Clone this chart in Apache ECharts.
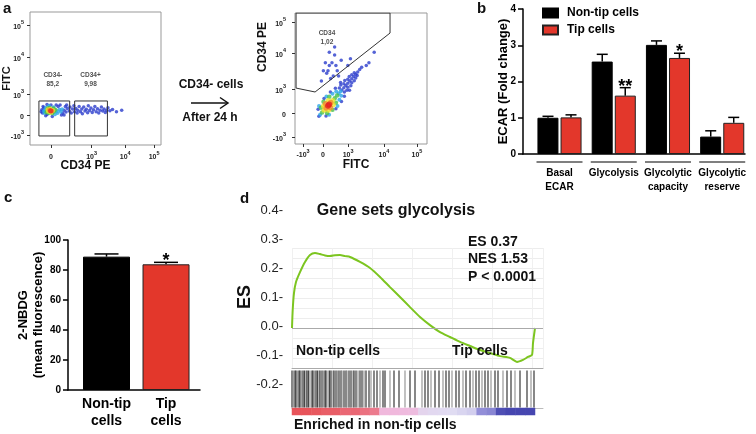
<!DOCTYPE html>
<html><head><meta charset="utf-8">
<script src="https://cdn.jsdelivr.net/npm/echarts@6/dist/echarts.min.js"></script>
<style>html,body{margin:0;padding:0;background:#fff}#c{width:756px;height:434px}</style>
</head><body><div id="c"></div>
<script>
// ================= DATA =================
// Panel a: flow cytometry (display channel units 0-1000)
const aLeftXTickPos = [159, 470, 727, 947];
const aLeftXTickLabels = ['0', '10^3', '10^4', '10^5'];
const aLeftYTickPos = [75, 226, 383, 662, 902];
const aLeftYTickLabels = ['-10^3', '0', '10^3', '10^4', '10^5'];
const aRightXTickPos = [61, 212, 402, 674, 924];
const aRightXTickLabels = ['-10^3', '0', '10^3', '10^4', '10^5'];
const aRightYTickPos = [53, 237, 420, 695, 931];
const aRightYTickLabels = ['-10^3', '0', '10^3', '10^4', '10^5'];
const gateNeg = [[68,331],[303,331],[303,68],[68,68],[68,331]];
const gatePos = [[341,331],[591,331],[591,68],[341,68],[341,331]];
const gateTip = [[8,1000],[720,1000],[720,847],[152,397],[8,427],[8,1000]];
const gateLabelsLeft = [['CD34-\n85,2', 174, 492], ['CD34+\n9,98', 462, 492]];
const gateLabelsRight = [['CD34\n1,02', 242, 810]];
// events: [x, y, density level 0-5]
const eventsLeft = [
 [158,257,5],
 [148,262,4],[168,255,4],
 [140,252,3],[175,262,3],[155,270,3],[160,245,3],[135,266,3],
 [130,258,2],[185,252,2],[150,280,2],[170,238,2],[195,265,2],[125,245,2],[135,275,2],[180,275,2],[145,240,2],
 [115,262,1],[205,255,1],[120,280,1],[180,285,1],[210,240,1],[110,240,1],[145,295,1],[190,230,1],[225,265,1],[235,250,1],[245,270,1],[105,255,1],
 [100,255,0],[250,240,0],[105,280,0],[130,230,0],[160,300,0],[215,290,0],[260,262,0],[275,248,0],[285,275,0],[95,240,0],
 [300,255,0],[305,285,0],[315,240,0],[325,270,0],[335,295,0],[340,250,0],[350,275,0],[360,240,0],[365,262,0],[375,290,0],[385,250,0],[395,270,0],
 [400,235,0],[410,285,0],[420,255,0],[430,268,0],[440,242,0],[445,295,0],[455,260,0],[465,278,0],[475,245,0],[485,265,0],[495,290,0],[505,250,0],
 [515,272,0],[525,240,0],[535,262,0],[545,285,0],[555,255,0],[565,270,0],[575,245,0],[585,262,0],[595,280,0],[610,258,0],[630,266,0],[660,250,0],
 [700,262,0],[90,265,0],[100,290,0],[120,220,0],[170,215,0],[230,300,0],[260,225,0],[280,300,0],[240,225,0],[200,300,0],[85,250,0],[130,305,0],
 [270,290,0]
];
const eventsRight = [
 [250,292,5],[259,302,5],
 [235,274,4],[271,316,4],[231,308,4],[269,276,4],
 [220,257,3],[286,333,3],[216,290,3],[254,258,3],[252,332,3],[290,300,3],
 [301,350,2],[205,240,2],[197,277,2],[243,237,2],[260,361,2],[310,314,2],[216,322,2],[284,262,2],[319,371,2],
 [331,385,1],[346,402,1],[284,384,1],[336,338,1],[182,290,1],[258,224,1],[238,362,1],[322,290,1],[312,401,1],[350,369,1],[190,223,1],
 [355,412,0],[336,428,0],[374,396,0],[370,430,0],[347,450,0],[393,410,0],[385,447,0],[370,460,0],[400,434,0],[400,464,0],[377,484,0],[423,444,0],
 [415,481,0],[400,494,0],[430,468,0],[430,499,0],[411,515,0],[449,483,0],[445,516,0],[430,529,0],[460,503,0],[460,533,0],[449,543,0],[471,523,0],
 [475,550,0],[490,568,0],[505,585,0],[306,425,0],[374,365,0],[268,397,0],[352,325,0],[220,348,0],[310,270,0],[175,266,0],[235,214,0],[181,212,0],
 [345,469,0],[413,411,0],
 [250,560,0],[280,620,0],[300,680,0],[270,500,0],[230,620,0],[320,560,0],[260,700,0],[350,640,0],[290,520,0],[310,600,0],[240,540,0],[200,480,0],
 [400,600,0],[420,650,0],[330,520,0],[260,600,0],[215,560,0],[300,740,0],[560,620,0],[540,600,0],[600,700,0]
];
// Panel b: ECAR
const bCategories = ['Basal\nECAR', 'Glycolysis', 'Glycolytic\ncapacity', 'Glycolytic\nreserve'];
const bNonTip = [1.00, 2.55, 3.01, 0.48];
const bNonTipErr = [0.04, 0.20, 0.11, 0.16];
const bTip = [1.01, 1.61, 2.65, 0.86];
const bTipErr = [0.07, 0.22, 0.13, 0.15];
const bTipSig = ['', '**', '*', ''];
// Panel c: 2-NBDG
const cCategories = ['Non-tip\ncells', 'Tip\ncells'];
const cValues = [88.9, 83.8];
const cErr = [1.8, 1.3];
const cSig = ['', '*'];
// Panel d: GSEA (x = gene rank position, y = running ES)
const esCurve = [[0,0],[0.7,0.062],[2,0.121],[4,0.159],[8,0.193],[13,0.228],[18,0.252],[23,0.259],[28,0.255],[33,0.250],[38,0.248],[43,0.251],
 [48,0.252],[53,0.248],[58,0.245],[68,0.228],[78,0.207],[88,0.176],[98,0.141],[108,0.107],[118,0.072],[128,0.038],[138,0.010],[148,-0.014],
 [158,-0.031],[168,-0.048],[178,-0.062],[188,-0.076],[198,-0.086],[208,-0.097],[218,-0.103],[225,-0.117],[231,-0.110],[236,-0.100],[240,-0.093],
 [241,-0.052],[243,0]];
const hits = [0,1.5,3,4,5.5,7,8,9.5,11,12.5,14,15,16.5,18,20,21,22.5,24,25.5,27,28,30,31.5,33,34,36,37.5,39,41,42,44,45.5,47,49,50,52,54,55,57,
 59,61,62,64,66,68,70,72,74,77,79,82,85,88,91,93,98,102,107,113,118,123,130,133,136,139,143,147,151,154,157,160,164,167,171,174,178,181,184,
 187,190,193,196,199,203,206,211,215,219,223,228,235,239,242];
const rankMetric = [1,1,0.98,0.95,0.95,0.9,0.9,0.85,0.8,0.45,0.45,0.42,0.4,0.1,0.05,0.02,0,-0.05,-0.1,-0.55,-0.6,-0.95,-1,-1,-1];
const esStats = ['ES 0.37', 'NES 1.53', 'P < 0.0001'];

// ================= CHART =================
const FF = '"Liberation Sans", Arial, sans-serif';
const RED = '#e3372b';
const chart = echarts.init(document.getElementById('c'), null, {renderer: 'canvas'});

function supFmt(lbl) {
  const m = lbl.match(/^(-?10)\^(\d)$/);
  return m ? '{b|' + m[1] + '}{s|' + m[2] + '}' : '{b|' + lbl + '}';
}
const supRich = {
  b: {fontSize: 7, fontWeight: 'bold', fontFamily: FF, color: '#222', verticalAlign: 'bottom', lineHeight: 11},
  s: {fontSize: 5.5, fontWeight: 'bold', fontFamily: FF, color: '#222', verticalAlign: 'top', lineHeight: 7}
};
function flowAxis(grid, pos, labels, margin, name, extra) {
  return Object.assign({
    gridIndex: grid, type: 'value', min: 0, max: 1000,
    axisLine: {show: false, onZero: false}, splitLine: {show: false},
    axisTick: {show: true, customValues: pos, length: 3, lineStyle: {color: '#333'}},
    axisLabel: {show: true, customValues: pos, margin: margin, rich: supRich,
      formatter: function (v) { const i = pos.indexOf(v); return i >= 0 ? supFmt(labels[i]) : ''; }},
    name: name, nameLocation: 'middle', nameMoveOverlap: false,
    nameTextStyle: {fontSize: 12, fontWeight: 'bold', fontFamily: FF, color: '#111'}
  }, extra || {});
}
// error bar renderer: reads value and error from the named arrays by data index
function errRender(vals, errs, offset, capW, sigArr) {
  return function (params, api) {
    const k = params.dataIndex;
    const base = api.coord([k, vals[k]]);
    const top = api.coord([k, vals[k] + errs[k]]);
    const x = base[0] + offset;
    const ch = [
      {type: 'line', shape: {x1: x, y1: base[1], x2: x, y2: top[1]}, style: {stroke: '#000', lineWidth: 1.5}},
      {type: 'line', shape: {x1: x - capW / 2, y1: top[1], x2: x + capW / 2, y2: top[1]}, style: {stroke: '#000', lineWidth: 1.5}}
    ];
    const s = sigArr && sigArr[k];
    if (s) ch.push({type: 'text', style: {text: s, x: x, y: top[1] - 1, align: 'center', verticalAlign: 'middle',
      font: 'bold 18px ' + FF, fill: '#000'}});
    return {type: 'group', children: ch};
  };
}
const byDensity = (a) => a.slice().sort((p, q) => p[2] - q[2]);
const txt = (x, y, t, size, opt) => Object.assign({type: 'text', x: x, y: y, z: 100, silent: true,
  style: Object.assign({text: t, font: 'bold ' + size + 'px ' + FF, fill: '#111', align: 'left', verticalAlign: 'middle'}, opt || {})});

const option = {
  animation: false,
  textStyle: {fontFamily: FF},
  grid: [
    {left: 29, top: 12, width: 132, height: 133, show: true, borderColor: '#999', borderWidth: 1},
    {left: 295, top: 13, width: 132, height: 131, show: true, borderColor: '#999', borderWidth: 1},
    {left: 523, top: 9, width: 222, height: 145},
    {left: 68, top: 240, width: 132, height: 150},
    {left: 292, top: 210, width: 251, height: 174},
    {left: 292, top: 248, width: 251, height: 120},
    {left: 292, top: 370, width: 251, height: 38},
    {left: 292, top: 408, width: 243, height: 7}
  ],
  xAxis: [
    flowAxis(0, aLeftXTickPos, aLeftXTickLabels, 5, 'CD34 PE', {nameGap: 15,
      nameTextStyle: {fontSize: 12, fontWeight: 'bold', fontFamily: FF, color: '#111', padding: [0, 20, 0, 0]}}),
    flowAxis(1, aRightXTickPos, aRightXTickLabels, 4, 'FITC', {nameGap: 15,
      nameTextStyle: {fontSize: 12, fontWeight: 'bold', fontFamily: FF, color: '#111', padding: [0, 10, 0, 0]}}),
    {gridIndex: 2, type: 'value', min: -0.673, max: 3.42,
      axisLine: {show: true, onZero: false, lineStyle: {color: '#000', width: 1.5}}, axisTick: {show: false}, splitLine: {show: false},
      axisLabel: {customValues: [0, 1, 2, 3], formatter: (v) => bCategories[Math.round(v)] || '', fontSize: 10, fontWeight: 'bold',
        color: '#000', lineHeight: 14, margin: 12}},
    {gridIndex: 3, type: 'value', min: -0.647, max: 1.571,
      axisLine: {show: true, onZero: false, lineStyle: {color: '#000', width: 1.5}}, axisTick: {show: false}, splitLine: {show: false},
      axisLabel: {customValues: [0, 1], formatter: (v) => cCategories[Math.round(v)] || '', fontSize: 14, fontWeight: 'bold',
        color: '#000', lineHeight: 17, margin: 6}},
    {gridIndex: 4, type: 'value', min: 0, max: 251, show: false},
    {gridIndex: 5, type: 'value', min: 0, max: 251, interval: 40,
      axisLine: {show: true, onZero: false, lineStyle: {color: '#aaa'}}, axisTick: {show: false}, axisLabel: {show: false},
      splitLine: {show: true, lineStyle: {color: '#f0f0f0'}}},
    {gridIndex: 6, type: 'value', min: 0, max: 251,
      axisLine: {show: true, onZero: false, lineStyle: {color: '#bbb'}}, axisTick: {show: false}, axisLabel: {show: false}, splitLine: {show: false}},
    {gridIndex: 7, type: 'category', data: rankMetric.map((v, i) => i), show: false}
  ],
  yAxis: [
    flowAxis(0, aLeftYTickPos, aLeftYTickLabels, 6, 'FITC', {nameGap: 18,
      nameTextStyle: {fontSize: 11, fontWeight: 'bold', fontFamily: FF, color: '#111'}}),
    flowAxis(1, aRightYTickPos, aRightYTickLabels, 9, '', {}),
    {gridIndex: 2, type: 'value', min: 0, max: 4, interval: 1,
      axisLine: {show: true, onZero: false, lineStyle: {color: '#000', width: 1.5}},
      axisTick: {show: true, length: 5, lineStyle: {color: '#000', width: 1.5}},
      axisLabel: {fontSize: 10, fontWeight: 'bold', color: '#000', margin: 7}, splitLine: {show: false},
      name: 'ECAR (Fold change)', nameLocation: 'middle', nameGap: 13, nameMoveOverlap: false,
      nameTextStyle: {fontSize: 13, fontWeight: 'bold', color: '#000'}},
    {gridIndex: 3, type: 'value', min: 0, max: 100, interval: 20,
      axisLine: {show: true, onZero: false, lineStyle: {color: '#000', width: 1.5}},
      axisTick: {show: true, length: 5, lineStyle: {color: '#000', width: 1.5}},
      axisLabel: {fontSize: 10, fontWeight: 'bold', color: '#000', margin: 7}, splitLine: {show: false},
      name: '2-NBDG\n(mean fluorescence)', nameLocation: 'middle', nameGap: 22, nameMoveOverlap: false,
      nameTextStyle: {fontSize: 13, fontWeight: 'bold', color: '#000', lineHeight: 15}},
    {gridIndex: 4, type: 'value', min: -0.2, max: 0.4, interval: 0.1,
      axisLine: {show: false, onZero: false}, axisTick: {show: false}, splitLine: {show: false},
      axisLabel: {fontSize: 13, color: '#222', margin: 9, formatter: (v) => (Math.abs(v) < 1e-9 ? 0 : v).toFixed(1) + '-'},
      name: 'ES', nameLocation: 'middle', nameGap: 38, nameMoveOverlap: false,
      nameTextStyle: {fontSize: 18, fontWeight: 'bold', color: '#111'}},
    {gridIndex: 5, type: 'value', min: -0.138, max: 0.276, interval: 0.0345,
      axisLine: {show: false, onZero: false}, axisTick: {show: false}, axisLabel: {show: false},
      splitLine: {show: true, lineStyle: {color: '#ededed'}}},
    {gridIndex: 6, type: 'value', min: 0, max: 1, show: false},
    {gridIndex: 7, type: 'category', data: ['m'], show: false}
  ],
  visualMap: [
    {type: 'continuous', show: false, seriesIndex: [0, 1], dimension: 2, min: 0, max: 5,
      inRange: {color: ['#2a3ccc', '#2aa6e6', '#48c04a', '#eee42a', '#f58e2a', '#e42020']}},
    {type: 'continuous', show: false, seriesIndex: 16, dimension: 2, min: -1, max: 1,
      inRange: {color: ['#4646b0', '#9a96dc', '#e0dcf2', '#f2b4da', '#e8545a']}}
  ],
  legend: {data: ['Non-tip cells', 'Tip cells'], orient: 'vertical', left: 537, top: 2, itemWidth: 15, itemHeight: 9, itemGap: 5,
    icon: 'rect', textStyle: {fontSize: 12, fontWeight: 'bold', color: '#000', padding: [0, 0, 0, 4]}, selectedMode: false},
  series: [
    {type: 'scatter', xAxisIndex: 0, yAxisIndex: 0, data: byDensity(eventsLeft), symbolSize: (v) => 3.5 + v[2] * 0.35, silent: true},
    {type: 'scatter', xAxisIndex: 1, yAxisIndex: 1, data: byDensity(eventsRight), symbolSize: (v) => 3.5 + v[2] * 0.5, silent: true},
    {type: 'line', xAxisIndex: 0, yAxisIndex: 0, data: gateNeg, symbol: 'none', lineStyle: {color: '#333', width: 1}, silent: true},
    {type: 'line', xAxisIndex: 0, yAxisIndex: 0, data: gatePos, symbol: 'none', lineStyle: {color: '#333', width: 1}, silent: true},
    {type: 'line', xAxisIndex: 1, yAxisIndex: 1, data: gateTip, symbol: 'none', lineStyle: {color: '#333', width: 1}, silent: true},
    {type: 'scatter', xAxisIndex: 0, yAxisIndex: 0, symbolSize: 0, silent: true,
      data: gateLabelsLeft.map((g) => ({name: g[0], value: [g[1], g[2]]})),
      label: {show: true, position: 'inside', formatter: (p) => p.name, fontSize: 6.5, fontWeight: 'bold', color: '#222', lineHeight: 9}},
    {type: 'scatter', xAxisIndex: 1, yAxisIndex: 1, symbolSize: 0, silent: true,
      data: gateLabelsRight.map((g) => ({name: g[0], value: [g[1], g[2]]})),
      label: {show: true, position: 'inside', formatter: (p) => p.name, fontSize: 6.5, fontWeight: 'bold', color: '#222', lineHeight: 9}},
    {name: 'Non-tip cells', type: 'bar', xAxisIndex: 2, yAxisIndex: 2, barWidth: 21, barGap: '10%',
      data: bNonTip.map((v, i) => [i, v]), itemStyle: {color: '#000', borderColor: '#000', borderWidth: 1}, silent: true},
    {name: 'Tip cells', type: 'bar', xAxisIndex: 2, yAxisIndex: 2, barWidth: 21, barGap: '10%',
      data: bTip.map((v, i) => [i, v]), itemStyle: {color: RED, borderColor: '#222', borderWidth: 1}, silent: true},
    {type: 'custom', xAxisIndex: 2, yAxisIndex: 2, clip: false, silent: true, renderItem: errRender(bNonTip, bNonTipErr, -11.5, 11, null),
      data: bNonTip.map((v, i) => [i, v + bNonTipErr[i]])},
    {type: 'custom', xAxisIndex: 2, yAxisIndex: 2, clip: false, silent: true, renderItem: errRender(bTip, bTipErr, 11.5, 11, bTipSig),
      data: bTip.map((v, i) => [i, v + bTipErr[i]])},
    {type: 'custom', xAxisIndex: 2, yAxisIndex: 2, clip: false, silent: true,
      data: bCategories.map((c, i) => [i, 0]),
      renderItem: function (params, api) {
        const p = api.coord([params.dataIndex, 0]);
        return {type: 'line', shape: {x1: p[0] - 23, y1: p[1] + 8, x2: p[0] + 23, y2: p[1] + 8}, style: {stroke: '#000', lineWidth: 1.2}};
      }},
    {name: 'c', type: 'bar', xAxisIndex: 3, yAxisIndex: 3, barWidth: 47, silent: true,
      data: cValues.map((v, i) => ({value: [i, v], itemStyle: i === 0 ? {color: '#000', borderColor: '#000', borderWidth: 1} : {color: RED, borderColor: '#222', borderWidth: 1}}))},
    {type: 'custom', xAxisIndex: 3, yAxisIndex: 3, clip: false, silent: true, renderItem: errRender(cValues, cErr, 0, 24, cSig),
      data: cValues.map((v, i) => [i, v + cErr[i]])},
    {type: 'line', xAxisIndex: 5, yAxisIndex: 5, data: esCurve, symbol: 'none', smooth: 0.2, silent: true,
      lineStyle: {color: '#7cc520', width: 2},
      markLine: {silent: true, symbol: 'none', label: {show: false}, data: [{yAxis: 0}], lineStyle: {color: '#aaa', type: 'solid', width: 1}}},
    {type: 'scatter', xAxisIndex: 6, yAxisIndex: 6, silent: true, symbol: 'rect', symbolSize: [1.3, 37],
      data: hits.map((h) => [h, 0.5]),
      itemStyle: {color: (p) => (p.dataIndex % 3 === 1 ? '#8a8a8a' : '#1a1a1a')}},
    {type: 'heatmap', xAxisIndex: 7, yAxisIndex: 7, silent: true, data: rankMetric.map((v, i) => [i, 0, v])}
  ],
  graphic: [
    txt(3, 9, 'a', 15),
    txt(477, 9, 'b', 15),
    txt(4, 198, 'c', 15),
    txt(240, 199, 'd', 15),
    txt(211, 85, 'CD34- cells', 12, {align: 'center'}),
    txt(210, 118, 'After 24 h', 12, {align: 'center'}),
    {type: 'line', silent: true, shape: {x1: 191, y1: 103, x2: 228, y2: 103}, style: {stroke: '#111', lineWidth: 1.5}},
    {type: 'polyline', silent: true, shape: {points: [[220, 97.5], [228, 103], [220, 108.5]]}, style: {stroke: '#111', lineWidth: 1.5, fill: null}},
    {type: 'text', x: 263, y: 47, rotation: Math.PI / 2, silent: true,
      style: {text: 'CD34 PE', font: 'bold 12px ' + FF, fill: '#111', align: 'center', verticalAlign: 'middle'}},
    txt(396, 211, 'Gene sets glycolysis', 16, {align: 'center'}),
    {type: 'text', x: 468, y: 233, z: 100, silent: true,
      style: {text: esStats.join('\n'), font: 'bold 14px ' + FF, fill: '#111', align: 'left', verticalAlign: 'top', lineHeight: 17.5}},
    txt(296, 351, 'Non-tip cells', 14),
    txt(452, 351, 'Tip cells', 14),
    txt(294, 425, 'Enriched in non-tip cells', 14)
  ]
};
chart.setOption(option);
</script>
</body></html>
